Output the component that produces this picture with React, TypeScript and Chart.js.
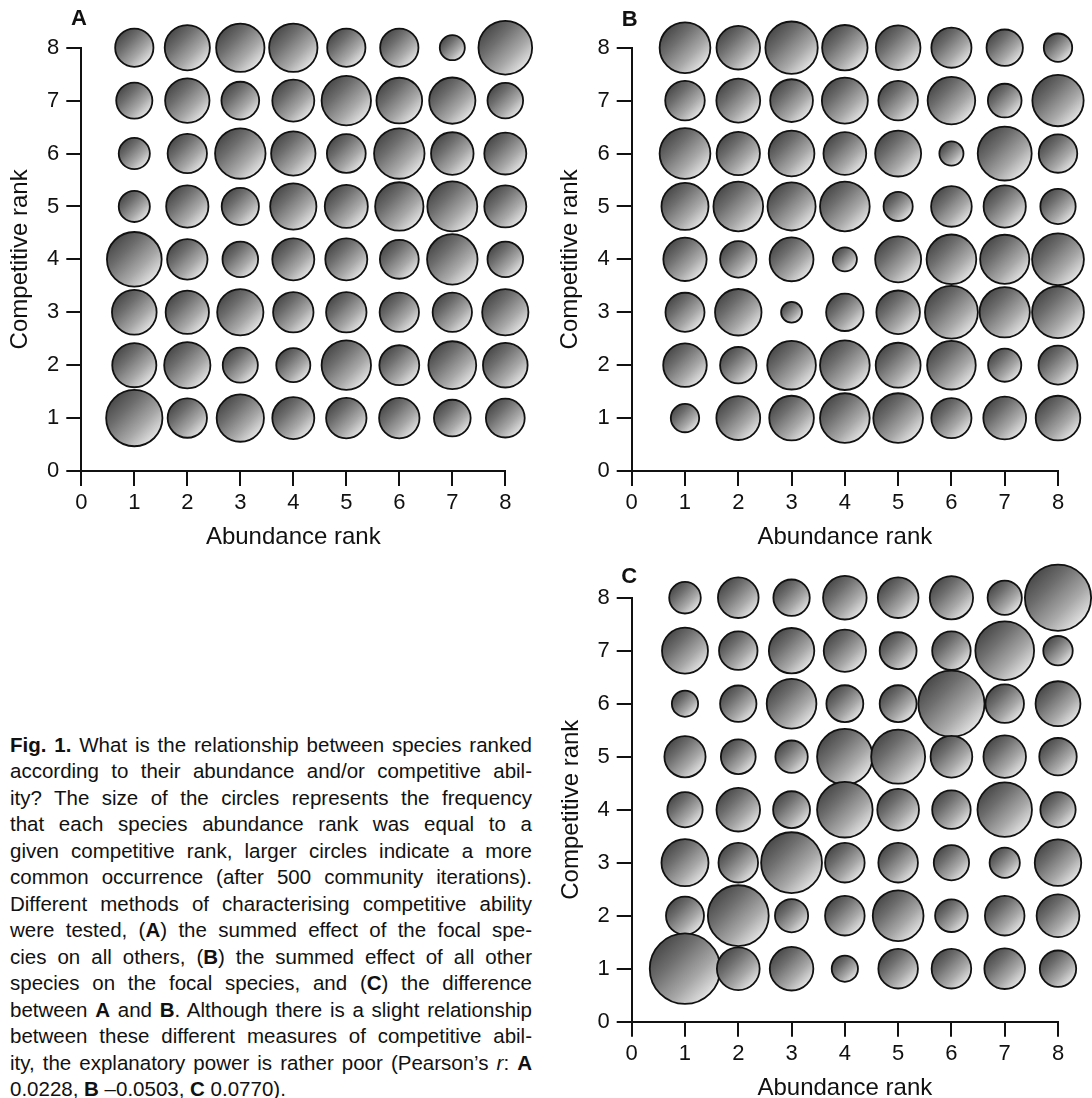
import React, { useEffect, useRef } from "react";
import { Chart, registerables } from "chart.js";

Chart.register(...registerables);

const FONT = '"Liberation Sans", Arial, Helvetica, sans-serif';

// Axis values
const abundanceRanks = [1, 2, 3, 4, 5, 6, 7, 8];
const competitiveRanks = [8, 7, 6, 5, 4, 3, 2, 1]; // row order (top to bottom)
const axisMin = 0;
const axisMax = 8;

// Circle size (diameter, in rank units) = relative frequency of each pairing.
// Rows: competitive rank 8 -> 1; columns: abundance rank 1 -> 8.
const sizesA = [
  [0.76, 0.89, 0.95, 0.95, 0.76, 0.76, 0.51, 1.05],
  [0.72, 0.875, 0.75, 0.83, 0.97, 0.9, 0.91, 0.71],
  [0.625, 0.78, 0.99, 0.875, 0.77, 0.99, 0.84, 0.83],
  [0.625, 0.835, 0.74, 0.91, 0.85, 0.95, 0.98, 0.83],
  [1.07, 0.8, 0.71, 0.83, 0.83, 0.77, 0.99, 0.71],
  [0.88, 0.855, 0.91, 0.8, 0.8, 0.78, 0.78, 0.91],
  [0.87, 0.91, 0.7, 0.68, 0.97, 0.79, 0.94, 0.88],
  [1.1, 0.78, 0.93, 0.83, 0.8, 0.8, 0.73, 0.77],
];

const sizesB = [
  [0.99, 0.855, 1.02, 0.89, 0.875, 0.79, 0.72, 0.57],
  [0.78, 0.86, 0.84, 0.9, 0.78, 0.93, 0.67, 1.0],
  [0.99, 0.85, 0.895, 0.84, 0.9, 0.49, 1.05, 0.76],
  [0.92, 0.97, 0.94, 0.97, 0.585, 0.8, 0.83, 0.7],
  [0.85, 0.72, 0.86, 0.49, 0.9, 0.97, 0.96, 1.01],
  [0.77, 0.91, 0.43, 0.74, 0.855, 1.03, 0.98, 1.01],
  [0.855, 0.72, 0.95, 0.97, 0.88, 0.95, 0.66, 0.77],
  [0.57, 0.86, 0.875, 0.97, 0.97, 0.79, 0.84, 0.875],
];

const sizesC = [
  [0.63, 0.8, 0.72, 0.855, 0.8, 0.85, 0.68, 1.28],
  [0.9, 0.76, 0.89, 0.83, 0.73, 0.76, 1.14, 0.59],
  [0.53, 0.72, 0.97, 0.73, 0.73, 1.28, 0.76, 0.88],
  [0.81, 0.69, 0.645, 1.08, 1.05, 0.82, 0.835, 0.74],
  [0.7, 0.855, 0.73, 1.08, 0.82, 0.76, 1.06, 0.7],
  [0.92, 0.78, 1.18, 0.78, 0.78, 0.7, 0.605, 0.91],
  [0.75, 1.18, 0.66, 0.78, 0.99, 0.65, 0.78, 0.84],
  [1.36, 0.84, 0.855, 0.53, 0.78, 0.78, 0.8, 0.72],
];

const xTitle = "Abundance rank";
const yTitle = "Competitive rank";

type PanelLayout = {
  left: number;
  top: number;
  width: number;
  height: number;
  padTop: number;
  padRight: number;
  yAxisWidth: number;
  xAxisHeight: number;
  yTitlePad: number;
  xTitlePad: number;
};

const layoutA: PanelLayout = {
  left: 0, top: 0, width: 546, height: 560,
  padTop: 47.7, padRight: 40.7, yAxisWidth: 81.3, xAxisHeight: 89,
  yTitlePad: 5.5, xTitlePad: 8.6,
};
const layoutB: PanelLayout = {
  left: 546, top: 0, width: 546, height: 560,
  padTop: 47.7, padRight: 34, yAxisWidth: 85.7, xAxisHeight: 89,
  yTitlePad: 10.3, xTitlePad: 8.6,
};
const layoutC: PanelLayout = {
  left: 546, top: 560, width: 546, height: 560,
  padTop: 37.7, padRight: 34, yAxisWidth: 85.7, xAxisHeight: 98.3,
  yTitlePad: 10.6, xTitlePad: 17.1,
};

function gradientFill(c: any) {
  const chart = c.chart;
  const raw = c.raw;
  if (!raw || !chart || !chart.scales || !chart.scales.x) return "#999";
  const px = chart.scales.x.getPixelForValue(raw.x);
  const py = chart.scales.y.getPixelForValue(raw.y);
  const r = raw.r;
  if (![px, py, r].every((v) => Number.isFinite(v))) return "#999";
  const g = chart.ctx.createLinearGradient(px - r * 0.85, py - r * 0.85, px + r * 0.75, py + r * 0.75);
  g.addColorStop(0, "#3e3e3e");
  g.addColorStop(0.35, "#6e6e6e");
  g.addColorStop(0.7, "#a8a8a8");
  g.addColorStop(0.92, "#d6d6d6");
  g.addColorStop(1, "#f0f0f0");
  return g;
}

function BubblePanel({ sizes, layout }: { sizes: number[][]; layout: PanelLayout }) {
  const ref = useRef<HTMLCanvasElement>(null);
  useEffect(() => {
    if (!ref.current) return;
    const unitPx = (layout.width - layout.padRight - layout.yAxisWidth) / (axisMax - axisMin);
    const points: { x: number; y: number; r: number }[] = [];
    competitiveRanks.forEach((cy, ri) => {
      abundanceRanks.forEach((ax, ci) => {
        points.push({ x: ax, y: cy, r: (sizes[ri][ci] * unitPx) / 2 - 1 });
      });
    });
    const tickFont = { family: FONT, size: 22 };
    const titleFont = { family: FONT, size: 24 };
    const grid = {
      drawOnChartArea: false,
      drawTicks: true,
      tickLength: 15,
      color: "#111",
      lineWidth: 2,
    };
    const border = { display: true, color: "#111", width: 2 };
    const chart = new Chart(ref.current, {
      type: "bubble",
      data: {
        datasets: [
          {
            data: points,
            clip: false,
            borderColor: "#111",
            borderWidth: 1.8,
            backgroundColor: gradientFill,
          } as any,
        ],
      },
      options: {
        animation: false,
        responsive: false,
        events: [],
        layout: {
          autoPadding: false,
          padding: { left: 0, top: layout.padTop, right: layout.padRight, bottom: 0 },
        },
        plugins: { legend: { display: false }, tooltip: { enabled: false } },
        scales: {
          x: {
            type: "linear",
            min: axisMin,
            max: axisMax,
            afterFit: (s: any) => {
              s.height = layout.xAxisHeight;
            },
            ticks: {
              stepSize: 1,
              font: tickFont,
              color: "#111",
              padding: 4,
              callback: (v: any) => String(v),
            },
            grid,
            border,
            title: {
              display: true,
              text: xTitle,
              font: titleFont,
              color: "#111",
              padding: { top: 0, bottom: layout.xTitlePad },
            },
          },
          y: {
            type: "linear",
            min: axisMin,
            max: axisMax,
            afterFit: (s: any) => {
              s.width = layout.yAxisWidth;
            },
            ticks: {
              stepSize: 1,
              font: tickFont,
              color: "#111",
              padding: 7,
              callback: (v: any) => String(v),
            },
            grid,
            border,
            title: {
              display: true,
              text: yTitle,
              font: titleFont,
              color: "#111",
              padding: { top: layout.yTitlePad, bottom: 0 },
            },
          },
        },
      } as any,
    });
    return () => chart.destroy();
  }, [sizes, layout]);
  return (
    <canvas
      ref={ref}
      width={layout.width}
      height={layout.height}
      style={{
        position: "absolute",
        left: layout.left,
        top: layout.top,
        width: layout.width,
        height: layout.height,
      }}
    />
  );
}

function PanelLetter({ text, x, y }: { text: string; x: number; y: number }) {
  return (
    <div
      style={{
        position: "absolute",
        left: x,
        top: y,
        transform: "translate(-50%, -50%)",
        fontFamily: FONT,
        fontWeight: "bold",
        fontSize: 22,
        lineHeight: 1,
        color: "#111",
      }}
    >
      {text}
    </div>
  );
}

const justified: React.CSSProperties = { textAlign: "justify", textAlignLast: "justify" as any };

export default function App() {
  const lines: React.ReactNode[] = [
    <>
      <b>Fig. 1.</b> What is the relationship between species ranked
    </>,
    <>according to their abundance and/or competitive abil-</>,
    <>ity? The size of the circles represents the frequency</>,
    <>that each species abundance rank was equal to a</>,
    <>given competitive rank, larger circles indicate a more</>,
    <>common occurrence (after 500 community iterations).</>,
    <>Different methods of characterising competitive ability</>,
    <>
      were tested, (<b>A</b>) the summed effect of the focal spe-
    </>,
    <>
      cies on all others, (<b>B</b>) the summed effect of all other
    </>,
    <>
      species on the focal species, and (<b>C</b>) the difference
    </>,
    <>
      between <b>A</b> and <b>B</b>. Although there is a slight relationship
    </>,
    <>between these different measures of competitive abil-</>,
    <>
      ity, the explanatory power is rather poor (Pearson’s <i>r</i>: <b>A</b>
    </>,
    <>
      0.0228, <b>B</b> –0.0503, <b>C</b> 0.0770).
    </>,
  ];
  return (
    <div
      style={{
        position: "absolute",
        left: 0,
        top: 0,
        width: 1092,
        height: 1098,
        overflow: "hidden",
        background: "#fff",
      }}
    >
      <BubblePanel sizes={sizesA} layout={layoutA} />
      <BubblePanel sizes={sizesB} layout={layoutB} />
      <BubblePanel sizes={sizesC} layout={layoutC} />
      <PanelLetter text="A" x={79} y={18} />
      <PanelLetter text="B" x={629.6} y={19} />
      <PanelLetter text="C" x={629.3} y={576} />
      <div
        style={{
          position: "absolute",
          left: 10,
          top: 731.7,
          width: 522,
          fontFamily: FONT,
          fontSize: 20.5,
          lineHeight: "26.5px",
          color: "#111",
        }}
      >
        {lines.map((ln, i) => (
          <div key={i} style={i < lines.length - 1 ? justified : { textAlign: "left" }}>
            {ln}
          </div>
        ))}
      </div>
    </div>
  );
}
